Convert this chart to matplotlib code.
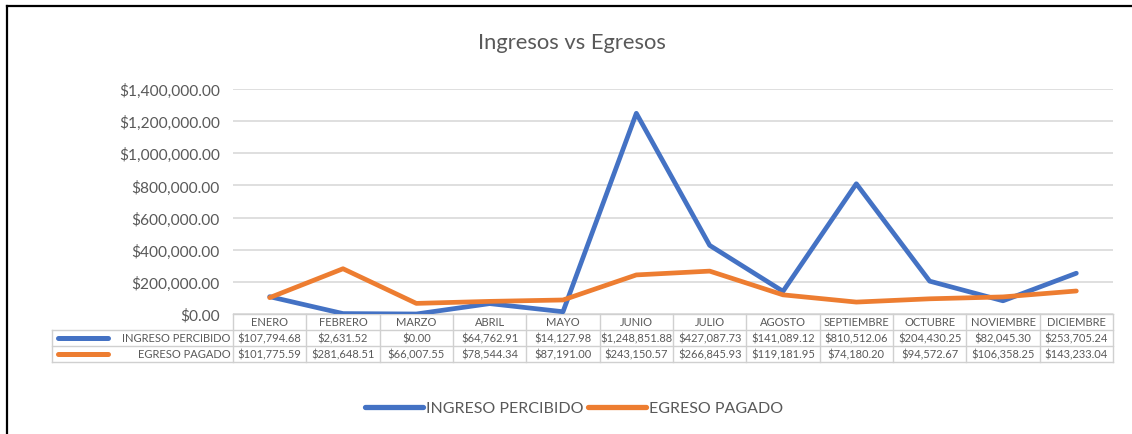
import matplotlib.pyplot as plt
from matplotlib.lines import Line2D
from matplotlib.ticker import FuncFormatter

months = ['ENERO', 'FEBRERO', 'MARZO', 'ABRIL', 'MAYO', 'JUNIO', 'JULIO',
          'AGOSTO', 'SEPTIEMBRE', 'OCTUBRE', 'NOVIEMBRE', 'DICIEMBRE']
ingreso = [107794.68, 2631.52, 0.00, 64762.91, 14127.98, 1248851.88, 427087.73,
           141089.12, 810512.06, 204430.25, 82045.30, 253705.24]
egreso = [101775.59, 281648.51, 66007.55, 78544.34, 87191.00, 243150.57, 266845.93,
          119181.95, 74180.20, 94572.67, 106358.25, 143233.04]
series_names = ['INGRESO PERCIBIDO', 'EGRESO PAGADO']
series_colors = ['#4472C4', '#ED7D31']

plt.rcParams['font.family'] = ['Lato', 'DejaVu Sans']
txt = '#595959'
grid_c = '#D9D9D9'

W, H = 1132, 435
fig = plt.figure(figsize=(W / 100, H / 100), dpi=100)

# axes placed in pixel terms: x 233..1113, y 90..315 (top-down)
ax = fig.add_axes([233 / W, (H - 315) / H, 880 / W, 225 / H])
x = list(range(len(months)))
for vals, name, c in zip([ingreso, egreso], series_names, series_colors):
    ax.plot(x, vals, color=c, lw=3.4, label=name, solid_capstyle='round',
            solid_joinstyle='round', zorder=3)

ax.set_xlim(-0.5, len(months) - 0.5)
ax.set_ylim(0, 1400000)
ax.set_yticks(range(0, 1400001, 200000))
ax.yaxis.set_major_formatter(FuncFormatter(lambda v, p: '${:,.2f}'.format(v)))
ax.tick_params(axis='y', length=0, pad=9.5, labelsize=11.2, labelcolor=txt)
ax.set_xticks([])
ax.grid(axis='y', color=grid_c, lw=1.2, zorder=0)
for s in ax.spines.values():
    s.set_visible(False)

# data table under the axis
trans = ax.get_xaxis_transform()
row_h = 16 / 225
left_edge = -0.5 - 181 / (880 / 12)
right_edge = len(months) - 0.5
tbl_c = '#D0D0D0'
kw = dict(transform=trans, clip_on=False, color=tbl_c, lw=1)

# horizontal lines
ax.add_line(Line2D([-0.5, right_edge], [0, 0], **kw))
for r in range(1, 4):
    ax.add_line(Line2D([left_edge, right_edge], [-r * row_h, -r * row_h], **kw))
# vertical lines
ax.add_line(Line2D([left_edge, left_edge], [-row_h, -3 * row_h], **kw))
for i in range(len(months) + 1):
    ax.add_line(Line2D([i - 0.5, i - 0.5], [0, -3 * row_h], **kw))

fs_tbl = 8.0
for i, m in enumerate(months):
    ax.text(i, -0.5 * row_h, m, transform=trans, ha='center', va='center',
            fontsize=fs_tbl, color=txt)
for r, vals in enumerate([ingreso, egreso]):
    yc = -(r + 1.5) * row_h
    for i, v in enumerate(vals):
        ax.text(i, yc, '${:,.2f}'.format(v), transform=trans, ha='center',
                va='center', fontsize=fs_tbl, color=txt)
    ax.text(-0.53, yc, series_names[r], transform=trans, ha='right', va='center',
            fontsize=fs_tbl, color=txt)
    ax.add_line(Line2D([left_edge + 0.08, left_edge + 0.76], [yc, yc], transform=trans,
                       clip_on=False, color=series_colors[r], lw=3.6,
                       solid_capstyle='round'))

fig.text(572 / W, 1 - 43 / H, 'Ingresos vs Egresos', ha='center', va='center',
         fontsize=15.8, color=txt)

leg = fig.legend(loc='center', bbox_to_anchor=(574 / W, 1 - 409 / H), ncol=2,
                 frameon=False, fontsize=11.5, handlelength=3.6, handletextpad=0.2,
                 columnspacing=0.3, labelcolor=txt)
for h in leg.get_lines():
    h.set_linewidth(3.8)

# screenshot border (left and top)
fig.add_artist(Line2D([7 / W, 7 / W], [0, 1 - 7 / H], transform=fig.transFigure,
                      color='black', lw=1.6))
fig.add_artist(Line2D([7 / W, 1], [1 - 7 / H, 1 - 7 / H], transform=fig.transFigure,
                      color='black', lw=1.6))

fig.savefig('out.png', dpi=100)
